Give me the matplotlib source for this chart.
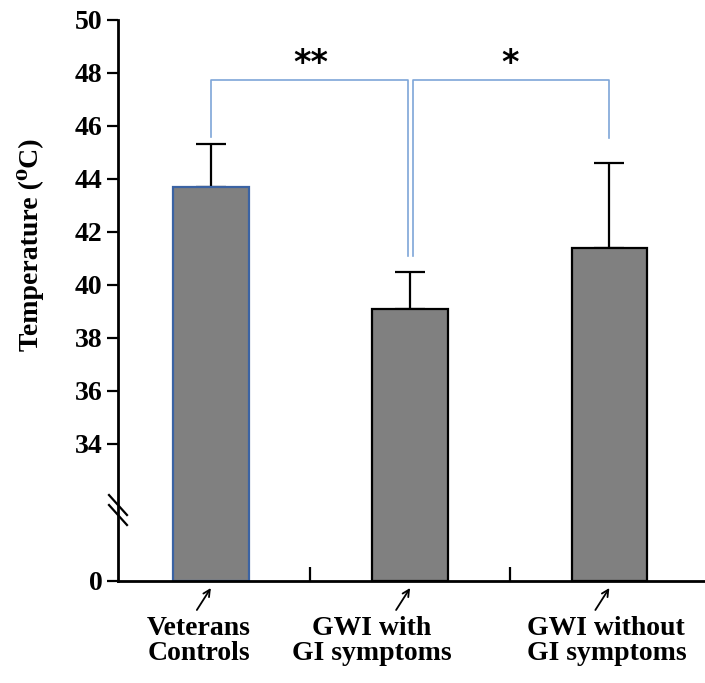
import numpy as np
import matplotlib
matplotlib.use('Agg')
import matplotlib.pyplot as plt
from matplotlib import transforms

groups = ['Veterans\nControls', 'GWI with\nGI symptoms', 'GWI without\nGI symptoms']
means = [43.7, 39.1, 41.4]
sem_upper = [1.6, 1.4, 3.2]
yticks = [0, 34, 36, 38, 40, 42, 44, 46, 48, 50]

# significance brackets: (left group, right group, top, left drop, right drop, stars)
brackets = [(0, 1, 47.75, 45.6, 41.1, '**'),
            (1, 2, 47.75, 41.1, 45.55, '*')]

BREAK = 31.5      # where the axis is broken
LOW_SPAN = 2.68   # height given to 0..BREAK


def fwd(y):
    y = np.asarray(y, dtype=float)
    return np.where(y >= BREAK, y, BREAK - LOW_SPAN + y * LOW_SPAN / BREAK)


def inv(t):
    t = np.asarray(t, dtype=float)
    return np.where(t >= BREAK, t, (t - BREAK + LOW_SPAN) * BREAK / LOW_SPAN)


serif = ['Liberation Serif', 'DejaVu Serif']
plt.rcParams['font.family'] = serif
plt.rcParams['font.weight'] = 'bold'

fig = plt.figure(figsize=(7.05, 6.83), dpi=100)
ax = fig.add_axes([118 / 705, 1 - 581 / 683, 1 - 118 / 705, 561 / 683])
ax.set_yscale('function', functions=(fwd, inv))

x = np.arange(len(groups))
edges = ['#3b63a3', 'black', 'black']
ax.bar(x, means, width=0.38, color='#808080', edgecolor=edges, linewidth=1.6, zorder=2)
ax.errorbar(x, means, yerr=[np.zeros(len(x)), sem_upper], fmt='none',
            ecolor='black', elinewidth=1.6, capsize=11, capthick=1.6, zorder=1)

ax.set_ylim(0, 50)
ax.set_xlim(-0.466, 2.48)
ax.set_yticks(yticks)
ax.set_yticklabels([str(t) for t in yticks], fontsize=20, fontweight='bold')
ax.set_xticks([0.5, 1.5])
ax.set_xticklabels([])
ax.tick_params(axis='x', direction='in', length=10, width=1.6)
ax.tick_params(axis='y', direction='out', length=8, width=1.6, pad=3)
for s in ['top', 'right']:
    ax.spines[s].set_visible(False)
for s in ['left', 'bottom']:
    ax.spines[s].set_linewidth(2)

# break marks on the y axis
yb = float((fwd(BREAK) - fwd(0)) / (fwd(50) - fwd(0)))
for dy in (-5, 5):
    ax.plot([-9 / 587, 9 / 587], [yb + (dy + 10) / 561, yb + (dy - 10) / 561],
            transform=ax.transAxes, color='black', lw=1.6, clip_on=False)

# significance brackets
blue = '#7ea6d8'
gap = 0.013
for a, b, top, ld, rd, stars in brackets:
    xa = a + (gap if a == 1 else 0)
    xb = b - (gap if b == 1 else 0)
    ax.plot([xa, xa, xb, xb], [ld, top, top, rd], color=blue, lw=1.2, zorder=3)
    ax.text((a + b) / 2, top + 0.6, stars, ha='center', va='center',
            fontsize=24, fontweight='bold', family='DejaVu Sans')

# arrows and category labels below the axis
head_tr = transforms.offset_copy(ax.get_xaxis_transform(), fig, x=0, y=-7, units='dots')
label_dx = [-12, -38, -3]
for i, name in enumerate(groups):
    ax.annotate('', xy=(i, 0), xycoords=head_tr, xytext=(-14, -22),
                textcoords='offset pixels',
                arrowprops=dict(arrowstyle='->', lw=1.3, color='black',
                                mutation_scale=12, shrinkA=0, shrinkB=0))
    ax.annotate(name, xy=(i, 0), xycoords=ax.get_xaxis_transform(),
                xytext=(label_dx[i], -35), textcoords='offset pixels',
                ha='center', va='top', fontsize=20, fontweight='bold',
                linespacing=1.0)

fig.text(31 / 705, 1 - 245 / 683, 'Temperature (\u2070C)', rotation=90,
         ha='center', va='center', fontsize=20, fontweight='bold', family=serif)

fig.savefig('out.png', dpi=100)
